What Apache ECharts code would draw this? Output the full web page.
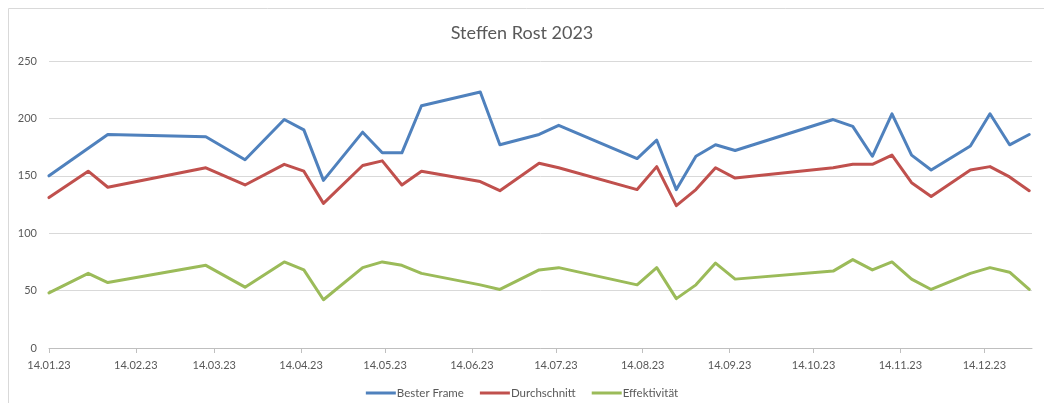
<!DOCTYPE html>
<html>
<head>
<meta charset="utf-8">
<script src="https://cdn.jsdelivr.net/npm/echarts@6/dist/echarts.min.js"></script>
<style>
  html, body { margin: 0; padding: 0; background: #fff; }
  #chart { width: 1044px; height: 403px; }
</style>
</head>
<body>
<div id="chart"></div>
<script>
// Messtage (Samstage), je Serie ein Wert pro Tag
var dates = ['2023-01-14', '2023-01-28', '2023-02-04', '2023-03-11', '2023-03-25', '2023-04-08',
    '2023-04-15', '2023-04-22', '2023-05-06', '2023-05-13', '2023-05-20', '2023-05-27',
    '2023-06-17', '2023-06-24', '2023-07-08', '2023-07-15', '2023-08-12', '2023-08-19',
    '2023-08-26', '2023-09-02', '2023-09-09', '2023-09-16', '2023-10-21', '2023-10-28',
    '2023-11-04', '2023-11-11', '2023-11-18', '2023-11-25', '2023-12-09', '2023-12-16',
    '2023-12-23', '2023-12-30'];
var besterFrame = [150, 174, 186, 184, 164, 199, 190, 146, 188, 170, 170, 211, 223, 177, 186, 194,
    165, 181, 138, 167, 177, 172, 199, 193, 167, 204, 168, 155, 176, 204, 177, 186];
var durchschnitt = [131, 154, 140, 157, 142, 160, 154, 126, 159, 163, 142, 154, 145, 137, 161, 157,
    138, 158, 124, 138, 157, 148, 157, 160, 160, 168, 144, 132, 155, 158, 149, 137];
var effektivitaet = [48, 65, 57, 72, 53, 75, 68, 42, 70, 75, 72, 65, 55, 51, 68, 70,
    55, 70, 43, 55, 74, 60, 67, 77, 68, 75, 60, 51, 65, 70, 66, 51];
// Achsenbeschriftung: jeweils der 14. eines Monats
var tickDays = ['2023-01-14', '2023-02-14', '2023-03-14', '2023-04-14', '2023-05-14', '2023-06-14',
    '2023-07-14', '2023-08-14', '2023-09-14', '2023-10-14', '2023-11-14', '2023-12-14'];
var startDay = '2023-01-14';
var endDay = '2023-12-31';

// Tage seit dem Starttag (UTC, damit keine Sommerzeit-Verschiebung)
var DAY = 86400000;
function toUtc(s) {
    var p = s.split('-');
    return Date.UTC(+p[0], +p[1] - 1, +p[2]);
}
function toDay(s) { return Math.round((toUtc(s) - toUtc(startDay)) / DAY); }
function pad(n) { return (n < 10 ? '0' : '') + n; }
function pairs(values) {
    return values.map(function (v, i) { return [toDay(dates[i]), v]; });
}

var font = 'Lato, "Open Sans", sans-serif';
var grey = '#595959';
var tickVals = tickDays.map(toDay);

var chart = echarts.init(document.getElementById('chart'));
chart.setOption({
    animation: false,
    textStyle: { fontFamily: font },
    color: ['#4f81bd', '#c0504d', '#9bbb59'],
    title: {
        text: 'Steffen Rost 2023',
        left: 'center',
        top: 19,
        textStyle: { fontFamily: font, fontSize: 18, fontWeight: 'normal', color: grey }
    },
    legend: {
        left: 'center',
        top: 382,
        icon: 'rect',
        itemWidth: 30,
        itemHeight: 3,
        itemGap: 16,
        textStyle: { fontFamily: font, fontSize: 11.5, color: grey, padding: [0, 0, 0, -4] },
        data: ['Bester Frame', 'Durchschnitt', 'Effektivität']
    },
    graphic: [{
        type: 'rect',
        shape: { x: 8.5, y: 8.5, width: 1100, height: 500 },
        style: { fill: 'none', stroke: '#d9d9d9', lineWidth: 1 },
        silent: true
    }],
    grid: { left: 49, right: 12, top: 61, bottom: 55, containLabel: false },
    xAxis: {
        type: 'value',
        min: 0,
        max: toDay(endDay),
        axisLine: { lineStyle: { color: '#bfbfbf' } },
        axisTick: { show: true, length: 5, customValues: tickVals, lineStyle: { color: '#bfbfbf' } },
        splitLine: { show: false },
        axisLabel: {
            customValues: tickVals,
            margin: 12,
            fontSize: 11,
            color: grey,
            fontFamily: font,
            formatter: function (val) {
                var d = new Date(toUtc(startDay) + val * DAY);
                return pad(d.getUTCDate()) + '.' + pad(d.getUTCMonth() + 1) + '.' + String(d.getUTCFullYear()).slice(2);
            }
        }
    },
    yAxis: {
        type: 'value',
        min: 0,
        max: 250,
        interval: 50,
        axisLine: { show: false },
        axisTick: { show: false },
        splitLine: { lineStyle: { color: '#d9d9d9' } },
        axisLabel: { fontSize: 11, color: grey, fontFamily: font, margin: 12 }
    },
    series: [
        { name: 'Bester Frame', type: 'line', showSymbol: false, data: pairs(besterFrame),
          lineStyle: { width: 3, join: 'round', cap: 'round' } },
        { name: 'Durchschnitt', type: 'line', showSymbol: false, data: pairs(durchschnitt),
          lineStyle: { width: 3, join: 'round', cap: 'round' } },
        { name: 'Effektivität', type: 'line', showSymbol: false, data: pairs(effektivitaet),
          lineStyle: { width: 3, join: 'round', cap: 'round' } }
    ]
});
</script>
</body>
</html>
